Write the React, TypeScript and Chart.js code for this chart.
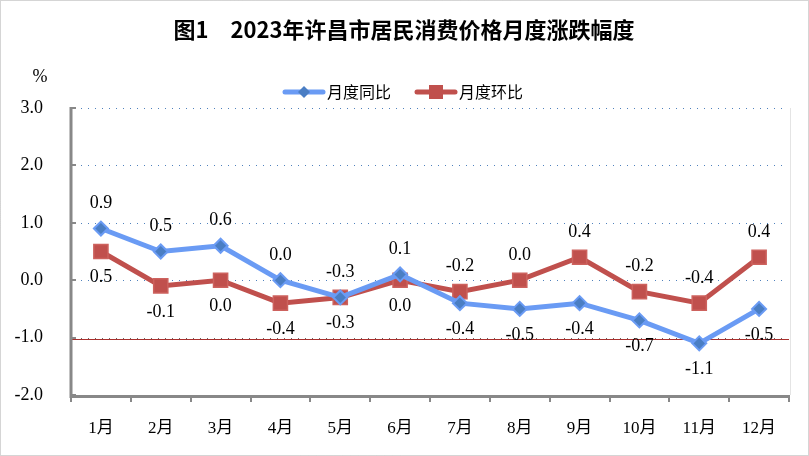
import React, { useEffect, useRef } from "react";
import { Chart, registerables } from "chart.js";

Chart.register(...registerables);

const months = ["1月", "2月", "3月", "4月", "5月", "6月", "7月", "8月", "9月", "10月", "11月", "12月"];
const yoy = [0.9, 0.5, 0.6, 0.0, -0.3, 0.1, -0.4, -0.5, -0.4, -0.7, -1.1, -0.5];
const mom = [0.5, -0.1, 0.0, -0.4, -0.3, 0.0, -0.2, 0.0, 0.4, -0.2, -0.4, 0.4];
const seriesNames = ["月度同比", "月度环比"];
const yTicks = [3, 2, 1, 0, -1, -2];
const titleText = "图1　2023年许昌市居民消费价格月度涨跌幅度";
const unitText = "%";

const SERIF = '"Liberation Serif", "Noto Sans CJK SC", serif';
const BLUE = "#6A9BF4";
const BLUE_DARK = "#4A7EC4";
const RED = "#C0504D";
const RED_BORDER = "#CD625E";

const decorPlugin = {
  id: "decor",
  beforeDatasetsDraw(chart: any) {
    const { ctx, chartArea, scales } = chart;
    const y = scales.y;
    const x = scales.x;
    ctx.save();
    for (const v of yTicks) {
      if (v === -2) continue;
      const py = Math.round(y.getPixelForValue(v)) + 0.5;
      ctx.beginPath();
      ctx.setLineDash([1, 6]);
      ctx.lineWidth = 1;
      ctx.strokeStyle = v === -1 ? "#666" : "#4F81BD";
      ctx.moveTo(chartArea.left + 3, py);
      ctx.lineTo(chartArea.right - 6, py);
      ctx.stroke();
      if (v === -1) {
        ctx.setLineDash([]);
        ctx.beginPath();
        ctx.strokeStyle = "#A8302D";
        ctx.moveTo(chartArea.left, py + 1);
        ctx.lineTo(chartArea.right, py + 1);
        ctx.stroke();
      }
    }
    ctx.setLineDash([]);
    ctx.strokeStyle = "#e4e4e4";
    ctx.lineWidth = 1;
    ctx.beginPath();
    ctx.moveTo(chartArea.right + 1.5, chartArea.top);
    ctx.lineTo(chartArea.right + 1.5, chartArea.bottom);
    ctx.stroke();
    ctx.strokeStyle = "#888";
    ctx.lineWidth = 3;
    ctx.beginPath();
    ctx.moveTo(chartArea.left, chartArea.top - 1);
    ctx.lineTo(chartArea.left, chartArea.bottom + 1.5);
    ctx.lineTo(chartArea.right + 1, chartArea.bottom + 1.5);
    ctx.stroke();
    ctx.lineWidth = 2;
    for (const v of yTicks) {
      const py = Math.round(y.getPixelForValue(v));
      ctx.beginPath();
      ctx.moveTo(chartArea.left, py);
      ctx.lineTo(chartArea.left + 5, py);
      ctx.stroke();
    }
    const n = months.length;
    const w = (chartArea.right - chartArea.left) / n;
    for (let i = 0; i <= n; i++) {
      const px = Math.round(x.getPixelForValue(0) - w / 2 + i * w);
      ctx.beginPath();
      ctx.moveTo(px, chartArea.bottom + 1);
      ctx.lineTo(px, chartArea.bottom + 7);
      ctx.stroke();
    }
    ctx.restore();
  },
  afterDraw(chart: any) {
    const { ctx } = chart;
    ctx.save();
    ctx.strokeStyle = "#aaa";
    ctx.lineWidth = 1;
    ctx.setLineDash([1, 1]);
    ctx.strokeRect(0.5, 0.5, chart.width - 1, chart.height - 1);
    ctx.setLineDash([]);
    ctx.fillStyle = "#000";
    ctx.textAlign = "center";
    ctx.textBaseline = "middle";
    ctx.font = 'bold 22px "Noto Sans CJK SC", "Liberation Sans", sans-serif';
    ctx.fillText(titleText, 404, 30);
    ctx.font = "18px " + SERIF;
    ctx.fillText(unitText, 40, 77);
    const items = [
      { name: seriesNames[0], color: BLUE, mark: BLUE_DARK, shape: "diamond", x0: 285 },
      { name: seriesNames[1], color: RED, mark: RED, shape: "square", x0: 417 },
    ];
    const ly = 92;
    for (const it of items) {
      ctx.strokeStyle = it.color;
      ctx.lineWidth = 5;
      ctx.lineCap = "round";
      ctx.beginPath();
      ctx.moveTo(it.x0, ly);
      ctx.lineTo(it.x0 + 38, ly);
      ctx.stroke();
      ctx.lineCap = "butt";
      const cx = it.x0 + 19;
      ctx.fillStyle = it.mark;
      ctx.beginPath();
      if (it.shape === "diamond") {
        ctx.moveTo(cx, ly - 6);
        ctx.lineTo(cx + 6, ly);
        ctx.lineTo(cx, ly + 6);
        ctx.lineTo(cx - 6, ly);
        ctx.closePath();
      } else {
        ctx.rect(cx - 7, ly - 7, 14, 14);
      }
      ctx.fill();
      ctx.fillStyle = "#000";
      ctx.textAlign = "left";
      ctx.font = '16px "Noto Sans CJK SC", serif';
      ctx.fillText(it.name, it.x0 + 42, ly);
    }
    ctx.font = "18px " + SERIF;
    ctx.textAlign = "center";
    ctx.fillStyle = "#000";
    chart.data.datasets.forEach((ds: any, di: number) => {
      const meta = chart.getDatasetMeta(di);
      meta.data.forEach((pt: any, i: number) => {
        const firstHalf = i < 6;
        const above = di === 0 ? firstHalf : !firstHalf;
        const off = above ? -25 : 26;
        const v = ds.data[i] as number;
        ctx.fillText(v.toFixed(1), pt.x, pt.y + off);
      });
    });
    ctx.restore();
  },
};

export default function App() {
  const ref = useRef<HTMLCanvasElement | null>(null);
  useEffect(() => {
    document.body.style.margin = "0";
    if (!ref.current) return;
    const chart = new Chart(ref.current, {
      type: "line",
      data: {
        labels: months,
        datasets: [
          {
            label: seriesNames[0],
            data: yoy,
            borderColor: BLUE,
            borderWidth: 5,
            pointStyle: "rectRot",
            pointRadius: 7,
            pointBackgroundColor: BLUE_DARK,
            pointBorderColor: BLUE,
            pointBorderWidth: 2,
            tension: 0,
          },
          {
            label: seriesNames[1],
            data: mom,
            borderColor: RED,
            borderWidth: 5,
            pointStyle: "rect",
            pointRadius: 10,
            pointBackgroundColor: RED,
            pointBorderColor: RED_BORDER,
            pointBorderWidth: 1.5,
            tension: 0,
          },
        ],
      },
      options: {
        animation: false,
        responsive: true,
        maintainAspectRatio: false,
        layout: { padding: { top: 108, right: 20, left: 0, bottom: 0 } },
        plugins: {
          legend: { display: false },
          title: { display: false },
          tooltip: { enabled: false },
        },
        scales: {
          x: {
            type: "category",
            offset: true,
            grid: { display: false },
            border: { display: false },
            ticks: {
              color: "#000",
              font: { family: SERIF, size: 17 },
              padding: 15,
              maxRotation: 0,
            },
            afterFit: (s: any) => {
              s.height = 61;
            },
          },
          y: {
            min: -2,
            max: 3,
            grid: { display: false },
            border: { display: false },
            ticks: {
              stepSize: 1,
              color: "#000",
              font: { family: SERIF, size: 18 },
              padding: 20,
              callback: (v: any) => Number(v).toFixed(1),
            },
            afterFit: (s: any) => {
              s.width = 71;
            },
          },
        },
      },
      plugins: [decorPlugin],
    });
    return () => chart.destroy();
  }, []);
  return (
    <div style={{ width: 809, height: 456, position: "relative" }}>
      <canvas ref={ref} />
    </div>
  );
}
